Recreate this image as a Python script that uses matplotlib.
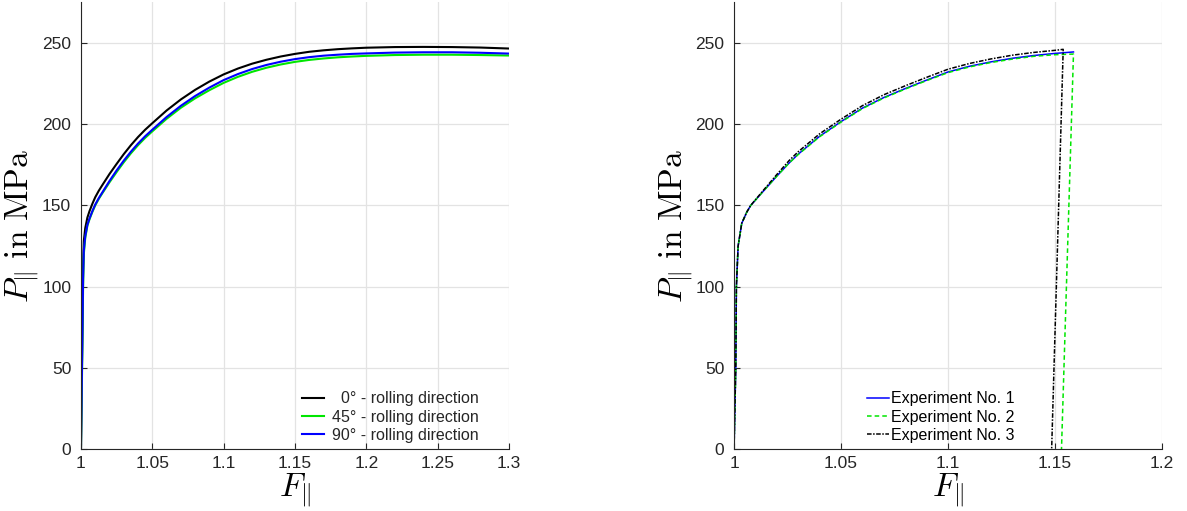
import matplotlib
matplotlib.use("Agg")
import matplotlib.pyplot as plt

plt.rcParams['mathtext.fontset'] = 'cm'
plt.rcParams['font.family'] = ['Liberation Sans', 'DejaVu Sans']

# tensile tests, three orientations to the rolling direction
F_dir = [1.0, 1.0008, 1.0015, 1.002, 1.003, 1.0045, 1.006, 1.008, 1.01, 1.0125, 1.015,
         1.02, 1.025, 1.03, 1.035, 1.04, 1.045, 1.05, 1.06, 1.07, 1.08, 1.09, 1.1,
         1.11, 1.12, 1.13, 1.14, 1.15, 1.16, 1.17, 1.18, 1.19, 1.2,
         1.22, 1.24, 1.26, 1.28, 1.3]
P_0deg = [0, 60, 112, 128, 136, 142.5, 146.5, 151, 155, 159, 162.5,
          169.3, 175.5, 181.5, 187, 192, 196.5, 200.5, 208.3, 215.1, 221, 226.1, 230.5,
          234.1, 237.1, 239.5, 241.5, 243.1, 244.4, 245.3, 246, 246.5, 246.9,
          247.3, 247.4, 247.3, 247.0, 246.4]
P_45deg = [0, 50, 100, 120, 130, 137.5, 141.5, 146, 150, 154, 157.5,
           164.2, 170.5, 176.5, 182, 187, 191.5, 195.5, 203.2, 210, 215.8, 220.8, 225.3,
           229, 232.1, 234.6, 236.6, 238.2, 239.4, 240.3, 241, 241.5, 241.9,
           242.4, 242.6, 242.6, 242.4, 242.1]
P_90deg = [0, 55, 105, 122, 131, 138, 142, 146.5, 150.5, 154.5, 158,
           165, 171.5, 177.5, 183, 188, 192.5, 196.5, 204.3, 211.2, 217.2, 222.4, 227,
           230.7, 233.8, 236.3, 238.3, 239.9, 241.1, 242, 242.6, 243.1, 243.4,
           243.9, 244.1, 244.1, 243.8, 243.3]
dir_labels = ["  0\u00b0 - rolling direction", "45\u00b0 - rolling direction",
              "90\u00b0 - rolling direction"]

# repeated experiments up to rupture
F_exp1 = [1.0, 1.0008, 1.0011, 1.0019, 1.0036, 1.006, 1.0078, 1.0132, 1.02, 1.0257, 1.03,
          1.04, 1.05, 1.06, 1.07, 1.08, 1.09, 1.1, 1.11, 1.12, 1.13, 1.14, 1.15, 1.1586]
P_exp1 = [0, 50, 100, 125, 139, 146, 150, 158, 168, 176, 181.5,
          192.5, 201.5, 209.8, 216.3, 221.8, 227, 232, 235.5, 238.2, 240.4, 242.1, 243.4, 244.3]
F_exp2 = [1.0, 1.0008, 1.0011, 1.0019, 1.0036, 1.006, 1.0078, 1.0132, 1.02, 1.0257, 1.03,
          1.04, 1.05, 1.06, 1.07, 1.08, 1.09, 1.1, 1.11, 1.12, 1.13, 1.14, 1.15, 1.1586, 1.153]
P_exp2 = [0, 50, 100, 125, 139, 146, 150, 158, 168, 176, 181.3,
          192.2, 201.2, 209.5, 216, 221.5, 226.7, 231.6, 235.1, 237.8, 239.9, 241.6, 242.6, 243.0, 0]
F_exp3 = [1.0, 1.0008, 1.0011, 1.0019, 1.0036, 1.006, 1.0078, 1.0132, 1.02, 1.0257, 1.03,
          1.04, 1.05, 1.06, 1.07, 1.08, 1.09, 1.1, 1.11, 1.12, 1.13, 1.14, 1.15, 1.1538, 1.1484]
P_exp3 = [0, 50, 100, 125, 139, 146, 150, 158.5, 169, 177.5, 183,
          194, 203, 211.3, 218, 223.5, 228.7, 233.7, 237.2, 240, 242.3, 244, 245.3, 245.9, 0]
exp_labels = ["Experiment No. 1", "Experiment No. 2", "Experiment No. 3"]

txt = '#262626'
green = '#00e600'

fig = plt.figure(figsize=(11.87, 5.11), dpi=100)
ax1 = fig.add_axes([0.0682, 0.1204, 0.3606, 0.8757])
ax2 = fig.add_axes([0.6184, 0.1204, 0.3606, 0.8757])


def style(ax, xticks, xlabels):
    ax.set_ylim(0, 275)
    ax.set_xticks(xticks)
    ax.set_xticklabels(xlabels)
    ax.set_yticks([0, 50, 100, 150, 200, 250])
    ax.grid(True, color='#e3e3e3', linewidth=0.9)
    ax.set_axisbelow(True)
    for s in ['top', 'right']:
        ax.spines[s].set_visible(False)
    for s in ['left', 'bottom']:
        ax.spines[s].set_color(txt)
        ax.spines[s].set_linewidth(0.8)
    ax.tick_params(direction='in', length=4, width=0.8, color=txt,
                   labelcolor=txt, labelsize=12.5)
    ax.tick_params(axis='y', pad=7)
    ax.tick_params(axis='x', pad=5)
    ax.set_xlabel(r"$F_{\|}$", fontsize=24)
    ax.set_ylabel(r"$P_{\|}\ \mathrm{in\ MPa}$", fontsize=24)
    ax.xaxis.set_label_coords(0.5, -0.05)
    ax.yaxis.set_label_coords(-0.09, 0.5)


ax1.plot(F_dir, P_0deg, color='black', lw=1.5, label=dir_labels[0])
ax1.plot(F_dir, P_45deg, color=green, lw=1.5, label=dir_labels[1])
ax1.plot(F_dir, P_90deg, color='#0000ff', lw=1.5, label=dir_labels[2])
ax1.set_xlim(1.0, 1.3)
style(ax1, [1.0, 1.05, 1.1, 1.15, 1.2, 1.25, 1.3],
      ["1", "1.05", "1.1", "1.15", "1.2", "1.25", "1.3"])
ax1.legend(loc='lower right', bbox_to_anchor=(0.93, 0.015), frameon=False,
           fontsize=11.5, handlelength=1.4, handletextpad=0.5, labelspacing=0.2,
           borderpad=0, borderaxespad=0, labelcolor=txt)

ax2.plot(F_exp1, P_exp1, color='#0000ff', lw=1.1, label=exp_labels[0])
ax2.plot(F_exp2, P_exp2, color=green, lw=1.1, ls=(0, (3, 2)), label=exp_labels[1])
ax2.plot(F_exp3, P_exp3, color='black', lw=1.1, ls=(0, (3, 1, 1, 1)), label=exp_labels[2])
ax2.set_xlim(1.0, 1.2)
style(ax2, [1.0, 1.05, 1.1, 1.15, 1.2], ["1", "1.05", "1.1", "1.15", "1.2"])
ax2.legend(loc='lower left', bbox_to_anchor=(0.31, 0.015), frameon=False,
           fontsize=11.5, handlelength=1.4, handletextpad=0.1, labelspacing=0.2,
           borderpad=0, borderaxespad=0, labelcolor='black')

fig.savefig("out.png", dpi=100)
